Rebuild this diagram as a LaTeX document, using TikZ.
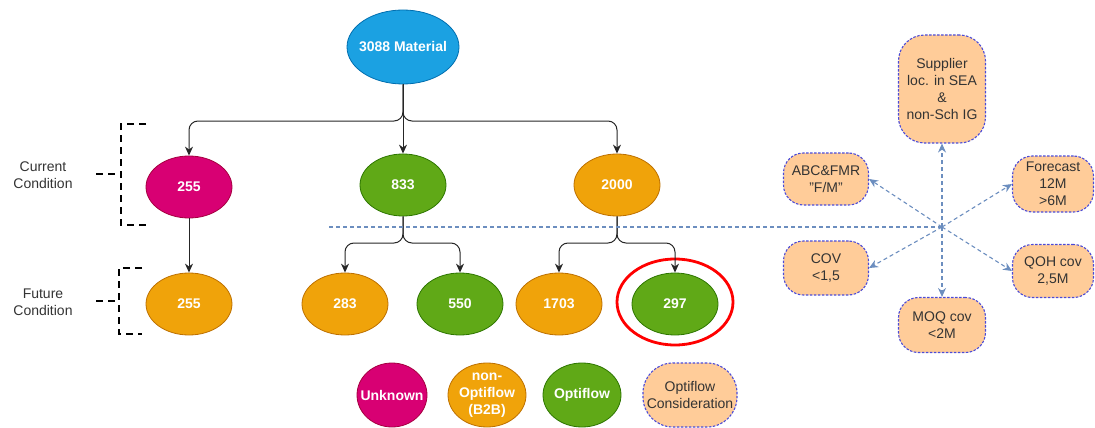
\documentclass[tikz,border=0pt]{standalone}
\usepackage{fontspec}
\setmainfont{Liberation Sans}
\usetikzlibrary{arrows.meta,shapes.geometric}
\definecolor{cmag}{HTML}{D80073}\definecolor{cmagd}{HTML}{A50040}
\definecolor{corg}{HTML}{F0A30A}\definecolor{corgd}{HTML}{BD7000}
\definecolor{cgrn}{HTML}{60A917}\definecolor{cgrnd}{HTML}{2D7600}
\definecolor{cblu}{HTML}{1BA1E2}\definecolor{cblud}{HTML}{006EAF}
\definecolor{cpeach}{HTML}{FFCC99}\definecolor{cdash}{HTML}{4B4BD8}
\definecolor{clink}{HTML}{6C8EBF}\definecolor{ctext}{HTML}{333333}
\tikzset{
  fs/.style={font=\fontsize{14}{17}\selectfont},
  ell/.style={ellipse, draw, line width=0.8pt, inner sep=0pt},
  wtxt/.style={text=white, align=center, inner sep=0pt, font=\fontsize{14}{17}\selectfont\bfseries},
  cnum/.style={ell, minimum width=86pt, minimum height=62pt},
  mag/.style={fill=cmag, draw=cmagd},
  org/.style={fill=corg, draw=corgd},
  grn/.style={fill=cgrn, draw=cgrnd},
  blu/.style={fill=cblu, draw=cblud},
  crit/.style={draw=cdash, fill=cpeach, dash pattern=on 2.5pt off 1.5pt, line width=1.1pt, rounded corners=20pt, inner sep=0pt, align=center, text=ctext, fs},
  flow/.style={draw=black!85, line width=1pt, rounded corners=9pt, -{Stealth[length=9pt,width=8pt]}},
  link/.style={draw=clink, line width=1.1pt, dash pattern=on 4pt off 3pt, -{Stealth[length=9pt,width=8pt]}},
  brk/.style={draw=black, line width=1.6pt, dash pattern=on 7pt off 5pt},
  lbl/.style={text=ctext, fs, align=center}
}
\begin{document}
\begin{tikzpicture}[x=1pt,y=-1pt]
\useasboundingbox (0,0) rectangle (1095,428);
% top
\node[ell, blu, minimum width=112pt, minimum height=74pt] (mat) at (403,47) {};
\node[wtxt] (matt) at (mat) {3088 Material};
% current
\node[cnum, mag] (c1) at (189,187) {};
\node[wtxt] at (c1) {255};
\node[cnum, grn] (c2) at (403,185) {};
\node[wtxt] at (c2) {833};
\node[cnum, org] (c3) at (617,185) {};
\node[wtxt] at (c3) {2000};
% future
\node[cnum, org] (f1) at (189,304) {};
\node[wtxt] at (f1) {255};
\node[cnum, org] (f2) at (345,304) {};
\node[wtxt] at (f2) {283};
\node[cnum, grn] (f3) at (460,304) {};
\node[wtxt] at (f3) {550};
\node[cnum, org] (f4) at (559,304) {};
\node[wtxt] at (f4) {1703};
\node[cnum, grn] (f5) at (675,304) {};
\node[wtxt] at (f5) {297};
\node[ellipse, draw=red, line width=2.8pt, minimum width=116pt, minimum height=86pt] (hl) at (675,302) {};
% junctions
\coordinate (j1) at (403,121);
\coordinate (j2) at (403,243);
\coordinate (j3) at (617,243);
\draw[flow] (mat.south) -- (j1) -| (c1.north);
\draw[flow] (mat.south) -- (j1) -| (c3.north);
\draw[flow] (mat.south) -- (c2.north);
\draw[flow] (c1.south) -- (f1.north);
\draw[flow] (c2.south) -- (j2) -| (f2.north);
\draw[flow] (c2.south) -- (j2) -| (f3.north);
\draw[flow] (c3.south) -- (j3) -| (f4.north);
\draw[flow] (c3.south) -- (j3) -| (f5.north);
% brackets
\node[lbl] (lc) at (43,175) {Current\\Condition};
\node[lbl] (lf) at (43,302) {Future\\Condition};
\coordinate (b1t) at (121,124);\coordinate (b1b) at (121,225);\coordinate (b1m) at (121,174);
\draw[brk] (146,124) -- (b1t) -- (b1b) -- (146,225);
\draw[brk] (96,174) -- (b1m);
\coordinate (b2t) at (119,268);\coordinate (b2b) at (119,334);\coordinate (b2m) at (119,301);
\draw[brk] (142,268) -- (b2t) -- (b2b) -- (142,334);
\draw[brk] (96,301) -- (b2m);
% criteria
\coordinate (hub) at (942,227);
\coordinate (ls) at (329,227);
\node[crit, minimum width=87pt, minimum height=108pt, rounded corners=26pt] (sup) at (942,89) {Supplier\\loc. in SEA\\\&\\non-Sch IG};
\node[crit, minimum width=85pt, minimum height=52pt] (abc) at (826,179) {ABC\&FMR\\"F/M"};
\node[crit, minimum width=81pt, minimum height=56pt] (fc) at (1053,184) {Forecast\\12M\\>6M};
\node[crit, minimum width=85pt, minimum height=54pt] (cov) at (826,268) {COV\\<1,5};
\node[crit, minimum width=81pt, minimum height=53pt] (qoh) at (1053,271) {QOH cov\\2,5M};
\node[crit, minimum width=87pt, minimum height=55pt] (moq) at (942,325) {MOQ cov\\<2M};
\draw[draw=clink, line width=1.1pt, dash pattern=on 4pt off 3pt] (ls) -- (hub);
\draw[link] (hub) -- (sup);
\draw[link] (hub) -- (abc.east);
\draw[link] (hub) -- (fc.west);
\draw[link] (hub) -- (cov.east);
\draw[link] (hub) -- (qoh.west);
\draw[link] (hub) -- (moq);
% legend
\node[ell, mag, minimum width=70pt, minimum height=64pt] (lg1) at (392,395) {};
\node[wtxt] at (lg1) {Unknown};
\node[ell, org, minimum width=78pt, minimum height=64pt] (lg2) at (487,395) {};
\node[wtxt] at (lg2) {non-\\Optiflow\\(B2B)};
\node[ell, grn, minimum width=78pt, minimum height=64pt] (lg3) at (582,395) {};
\node[wtxt] at (lg3) {Optiflow};
\node[crit, minimum width=94pt, minimum height=64pt, rounded corners=30pt] (lg4) at (690,395) {};
\node[lbl, inner sep=0pt] at (lg4) {Optiflow\\Consideration};
\end{tikzpicture}
\end{document}
